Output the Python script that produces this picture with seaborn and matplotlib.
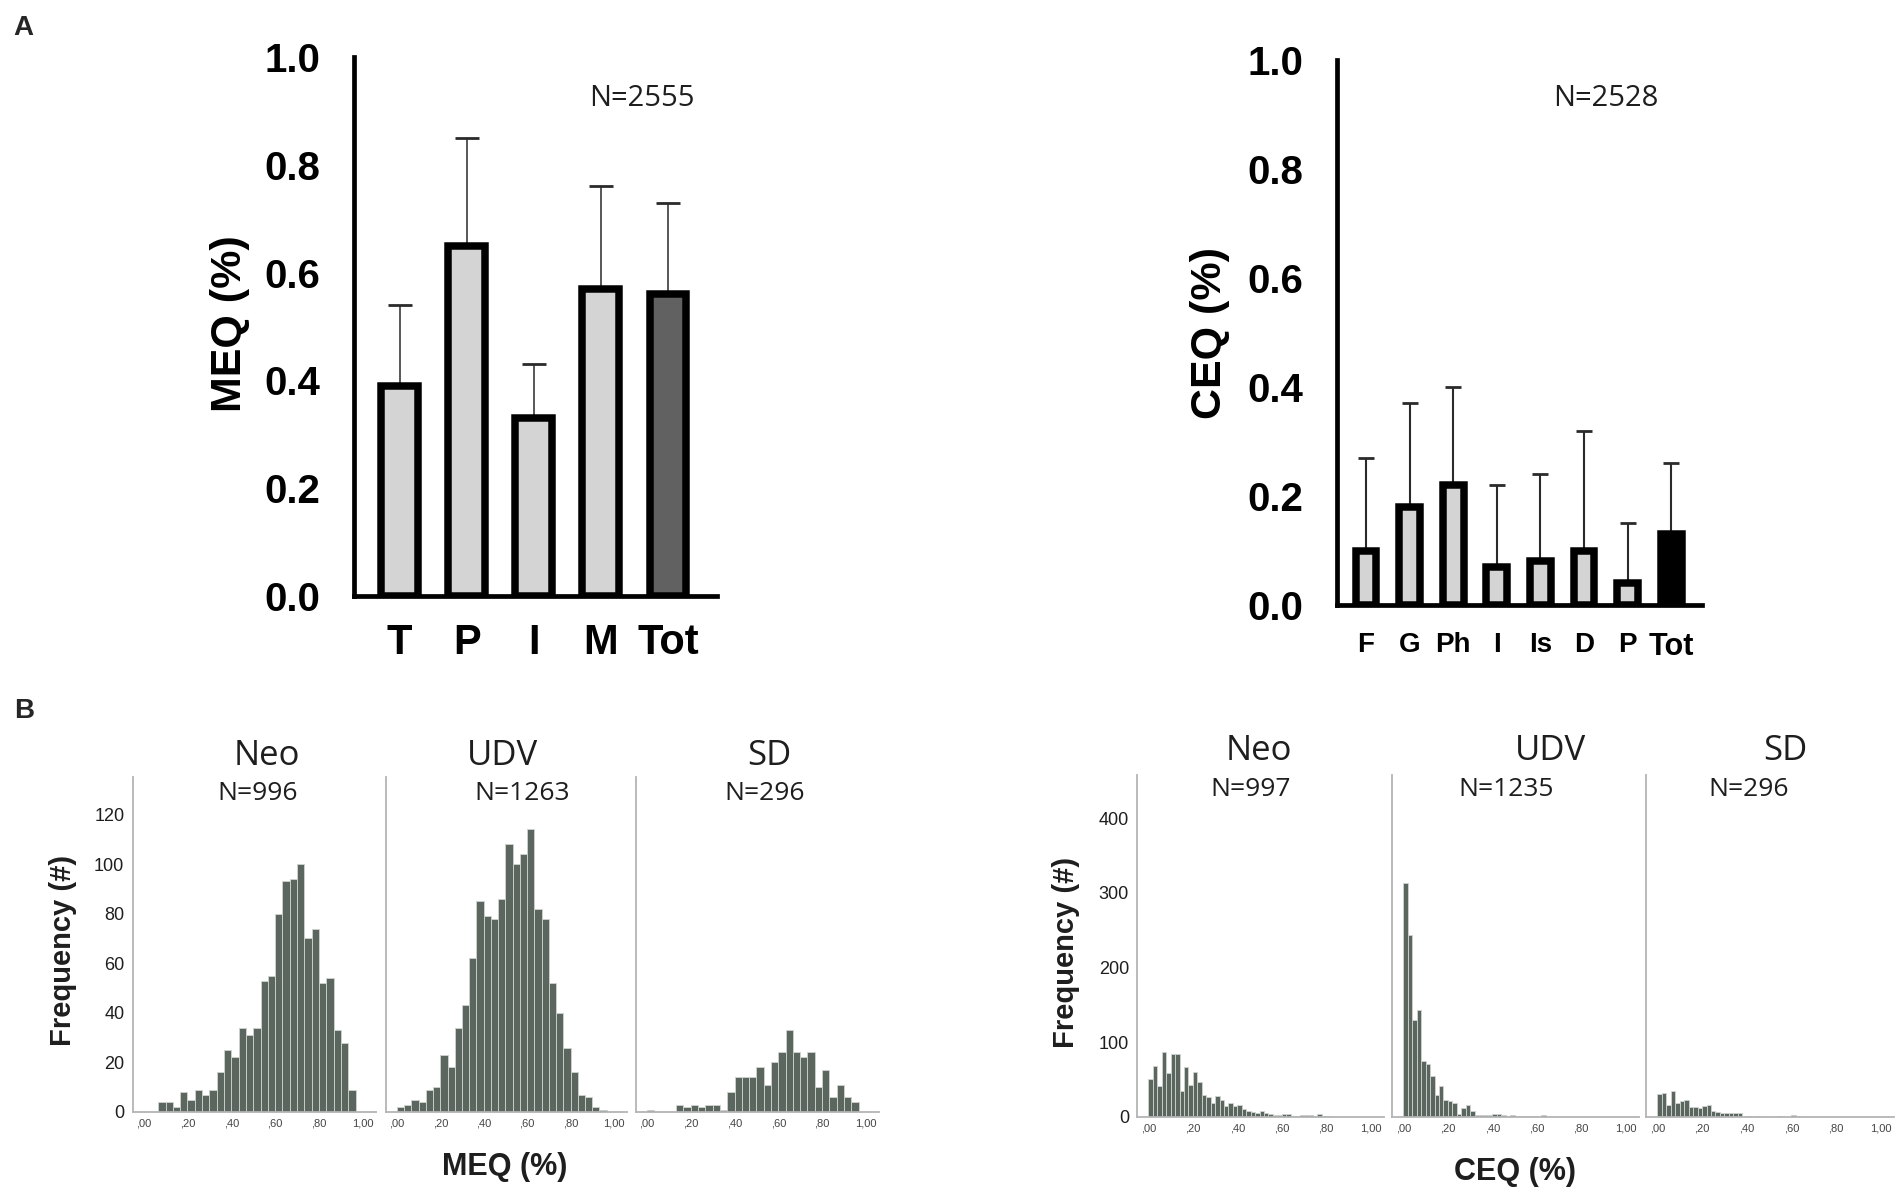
import numpy as np
import pandas as pd
import matplotlib
matplotlib.use("Agg")
import matplotlib.pyplot as plt
import seaborn as sns

# ---------------- data ----------------
meq_cats = ["T", "P", "I", "M", "Tot"]
meq_mean = [0.39, 0.65, 0.33, 0.57, 0.56]
meq_sd = [0.15, 0.20, 0.10, 0.19, 0.17]
meq_colors = ["#d4d4d4", "#d4d4d4", "#d4d4d4", "#d4d4d4", "#616161"]
meq_total_n = "N=2555"

ceq_cats = ["F", "G", "Ph", "I", "Is", "D", "P", "Tot"]
ceq_mean = [0.10, 0.18, 0.22, 0.07, 0.08, 0.10, 0.04, 0.13]
ceq_sd = [0.17, 0.19, 0.18, 0.15, 0.16, 0.22, 0.11, 0.13]
ceq_colors = ["#d4d4d4"] * 7 + ["#000000"]
ceq_total_n = "N=2528"

groups = ["Neo", "UDV", "SD"]
meq_group_n = ["N=996", "N=1263", "N=296"]
ceq_group_n = ["N=997", "N=1235", "N=296"]

meq_edges = np.linspace(0, 1, 31)
meq_neo = [0, 0, 4, 4, 2, 8, 5, 9, 7, 9, 16, 25, 22, 34, 31, 34, 53, 55, 80, 93,
           94, 100, 70, 74, 52, 54, 33, 28, 9, 0]
meq_udv = [2, 3, 5, 4, 9, 10, 23, 18, 34, 43, 62, 85, 79, 78, 86, 108, 100, 104, 114, 82,
           78, 52, 40, 26, 16, 7, 6, 2, 1, 0]
meq_sd_counts = [1, 0, 0, 0, 3, 2, 3, 2, 3, 3, 1, 8, 14, 14, 14, 18, 11, 20, 24, 33,
                 24, 22, 24, 10, 17, 6, 11, 6, 4, 0]

ceq_edges = np.linspace(0, 1, 51)
ceq_neo = [51, 68, 41, 87, 59, 84, 84, 34, 66, 42,
           60, 46, 29, 26, 18, 28, 23, 15, 18, 14,
           16, 10, 7, 6, 5, 7, 5, 3, 2, 2,
           4, 3, 1, 1, 2, 2, 2, 1, 3, 1,
           1, 0, 0, 0, 0, 0, 0, 0, 0, 0]
ceq_udv = [313, 243, 130, 143, 74, 71, 54, 29, 41, 22,
           21, 18, 4, 12, 16, 7, 2, 2, 2, 2,
           3, 4, 2, 1, 2, 1, 1, 1, 1, 1,
           0, 2, 0, 0, 0, 0, 0, 0, 0, 0,
           0, 0, 0, 0, 0, 0, 0, 0, 0, 0]
ceq_sd_counts = [30, 32, 16, 35, 19, 21, 22, 13, 13, 11,
                 14, 16, 7, 6, 5, 5, 5, 5, 5, 0,
                 1, 0, 1, 0, 0, 0, 0, 1, 0, 0,
                 2, 1, 0, 0, 0, 0, 0, 0, 0, 0,
                 0, 0, 0, 0, 0, 0, 0, 0, 0, 0]

meq_hist_ticks = [0, 20, 40, 60, 80, 100, 120]
ceq_hist_ticks = [0, 100, 200, 300, 400]
x_hist_ticks = [0, 0.2, 0.4, 0.6, 0.8, 1.0]
x_hist_labels = [",00", ",20", ",40", ",60", ",80", "1,00"]

# ---------------- style ----------------
sns.set_theme(style="white")
plt.rcParams["font.family"] = ["Liberation Sans", "DejaVu Sans"]

W, H = 1904, 1196
fig = plt.figure(figsize=(W / 100, H / 100), dpi=100)
fig.patch.set_facecolor("white")


def add_ax(x0, y0, x1, y1):
    return fig.add_axes([x0 / W, 1 - y1 / H, (x1 - x0) / W, (y1 - y0) / H])


def ftext(x, y, s, **kw):
    fig.text(x / W, 1 - y / H, s, **kw)


TXT = "#1e1e1e"
SANS2 = ["Open Sans", "DejaVu Sans"]


def bar_panel(ax, cats, means, sds, colors, width, edge_lw, xlim, xtick_size,
              xtick_len, err_lw, cap):
    sns.barplot(x=cats, y=means, hue=cats, palette=colors, legend=False,
                width=width, edgecolor="black", linewidth=edge_lw,
                saturation=1, ax=ax, zorder=2)
    n = len(cats)
    eb = ax.errorbar(np.arange(n), means, yerr=[np.zeros(n), sds], fmt="none",
                     ecolor="#2a2a2a", elinewidth=err_lw, capsize=cap,
                     capthick=2.0, zorder=1)
    ax.set_xlim(*xlim)
    ax.set_ylim(0, 1.0)
    ax.set_yticks([0, 0.2, 0.4, 0.6, 0.8, 1.0])
    ax.set_yticklabels(["0.0", "0.2", "0.4", "0.6", "0.8", "1.0"],
                       fontsize=29, fontweight="bold")
    ax.set_xticks(np.arange(n))
    ax.set_xticklabels(cats, fontsize=xtick_size, fontweight="bold")
    for s in ["top", "right"]:
        ax.spines[s].set_visible(False)
    for s in ["left", "bottom"]:
        ax.spines[s].set_linewidth(3.4)
        ax.spines[s].set_color("black")
    ax.tick_params(axis="y", direction="out", length=16, width=3.6, pad=8, colors="black")
    ax.tick_params(axis="x", direction="out", length=xtick_len, width=3.6, pad=5, colors="black")
    ax.set_xlabel("")
    ax.set_ylabel("")
    ax.set_facecolor("white")


# Panel A
axA1 = add_ax(354, 57, 716.7, 596)
bar_panel(axA1, meq_cats, meq_mean, meq_sd, meq_colors, 0.55, 5.4,
          (-0.678, 4.726), 30, 14.4, 1.1, 8.3)
axA2 = add_ax(1336.7, 60, 1701.7, 605)
bar_panel(axA2, ceq_cats, ceq_mean, ceq_sd, ceq_colors, 0.475, 5.4,
          (-0.672, 7.70), 20, 14.4, 1.5, 5.7)
# the reference draws the "Tot" label a little larger with a short tick
axA2.get_xticklabels()[-1].set_fontsize(22)
axA2.xaxis.get_major_ticks()[-1].tick1line.set_markersize(6)

ftext(230, 324, "MEQ (%)", rotation=90, ha="center", va="center",
      fontsize=31, fontweight="bold", color="black")
ftext(1210, 333, "CEQ (%)", rotation=90, ha="center", va="center",
      fontsize=31, fontweight="bold", color="black")
ftext(642, 98, meq_total_n, ha="center", va="center", fontsize=21,
      color=TXT, family=SANS2)
ftext(1606, 98, ceq_total_n, ha="center", va="center", fontsize=21,
      color=TXT, family=SANS2)

ftext(23, 28, "A", ha="center", va="center", fontsize=20, fontweight="bold")
ftext(24, 711, "B", ha="center", va="center", fontsize=20, fontweight="bold")

# Panel B histograms
BAR_FC = "#5b665f"
BAR_EC = "#cfd4d0"


def hist_panel(ax, edges, counts, ylim, yticks, show_ylabels):
    w = np.diff(edges)
    df = pd.DataFrame({"value": edges[:-1] + w / 2, "count": counts})
    sns.histplot(data=df, x="value", weights="count", bins=edges.tolist(), ax=ax,
                 color=BAR_FC, edgecolor=BAR_EC, linewidth=0.6, alpha=1)
    ax.set_xlim(-0.05, 1.06)
    ax.set_ylim(*ylim)
    ax.set_xticks(x_hist_ticks)
    ax.set_xticklabels(x_hist_labels, fontsize=8, color="#444444")
    ax.set_yticks(yticks)
    if show_ylabels:
        ax.set_yticklabels([str(t) for t in yticks], fontsize=13, color=TXT)
    else:
        ax.set_yticklabels([])
    ax.tick_params(axis="both", length=0, pad=5)
    ax.tick_params(axis="y", pad=6)
    for s in ["top", "right"]:
        ax.spines[s].set_visible(False)
    for s in ["left", "bottom"]:
        ax.spines[s].set_color("#b4b4b4")
        ax.spines[s].set_linewidth(1.3)
    ax.set_xlabel("")
    ax.set_ylabel("")
    ax.set_facecolor("white")


meq_boxes = [(132.7, 777.3, 376, 1112), (386, 777.3, 627, 1112), (636, 777.3, 879, 1112)]
ceq_boxes = [(1137.3, 775, 1384, 1116.7), (1392.3, 775, 1639, 1116.7), (1646.3, 775, 1894, 1116.7)]

for i, (box, cnt) in enumerate(zip(meq_boxes, [meq_neo, meq_udv, meq_sd_counts])):
    ax = add_ax(*box)
    hist_panel(ax, meq_edges, cnt, (0, 135), meq_hist_ticks, i == 0)
for i, (box, cnt) in enumerate(zip(ceq_boxes, [ceq_neo, ceq_udv, ceq_sd_counts])):
    ax = add_ax(*box)
    hist_panel(ax, ceq_edges, cnt, (0, 458), ceq_hist_ticks, i == 0)

meq_title_x = [267, 502, 769]
meq_n_x = [258, 522, 765]
ceq_title_x = [1259, 1551, 1785]
ceq_n_x = [1251, 1506, 1749]
for g, tx, nx, nlab in zip(groups, meq_title_x, meq_n_x, meq_group_n):
    ftext(tx, 756, g, ha="center", va="center", fontsize=25, color=TXT, family=SANS2)
    ftext(nx, 793, nlab, ha="center", va="center", fontsize=19, color=TXT, family=SANS2)
for g, tx, nx, nlab in zip(groups, ceq_title_x, ceq_n_x, ceq_group_n):
    ftext(tx, 751, g, ha="center", va="center", fontsize=25, color=TXT, family=SANS2)
    ftext(nx, 789, nlab, ha="center", va="center", fontsize=19, color=TXT, family=SANS2)

ftext(63, 950, "Frequency (#)", rotation=90, ha="center", va="center",
      fontsize=21, fontweight="bold", color=TXT)
ftext(1066, 952, "Frequency (#)", rotation=90, ha="center", va="center",
      fontsize=21, fontweight="bold", color=TXT)
ftext(505, 1167, "MEQ (%)", ha="center", va="center", fontsize=22,
      fontweight="bold", color=TXT)
ftext(1515, 1172, "CEQ (%)", ha="center", va="center", fontsize=22,
      fontweight="bold", color=TXT)

fig.savefig("out.png", dpi=100, facecolor="white")
